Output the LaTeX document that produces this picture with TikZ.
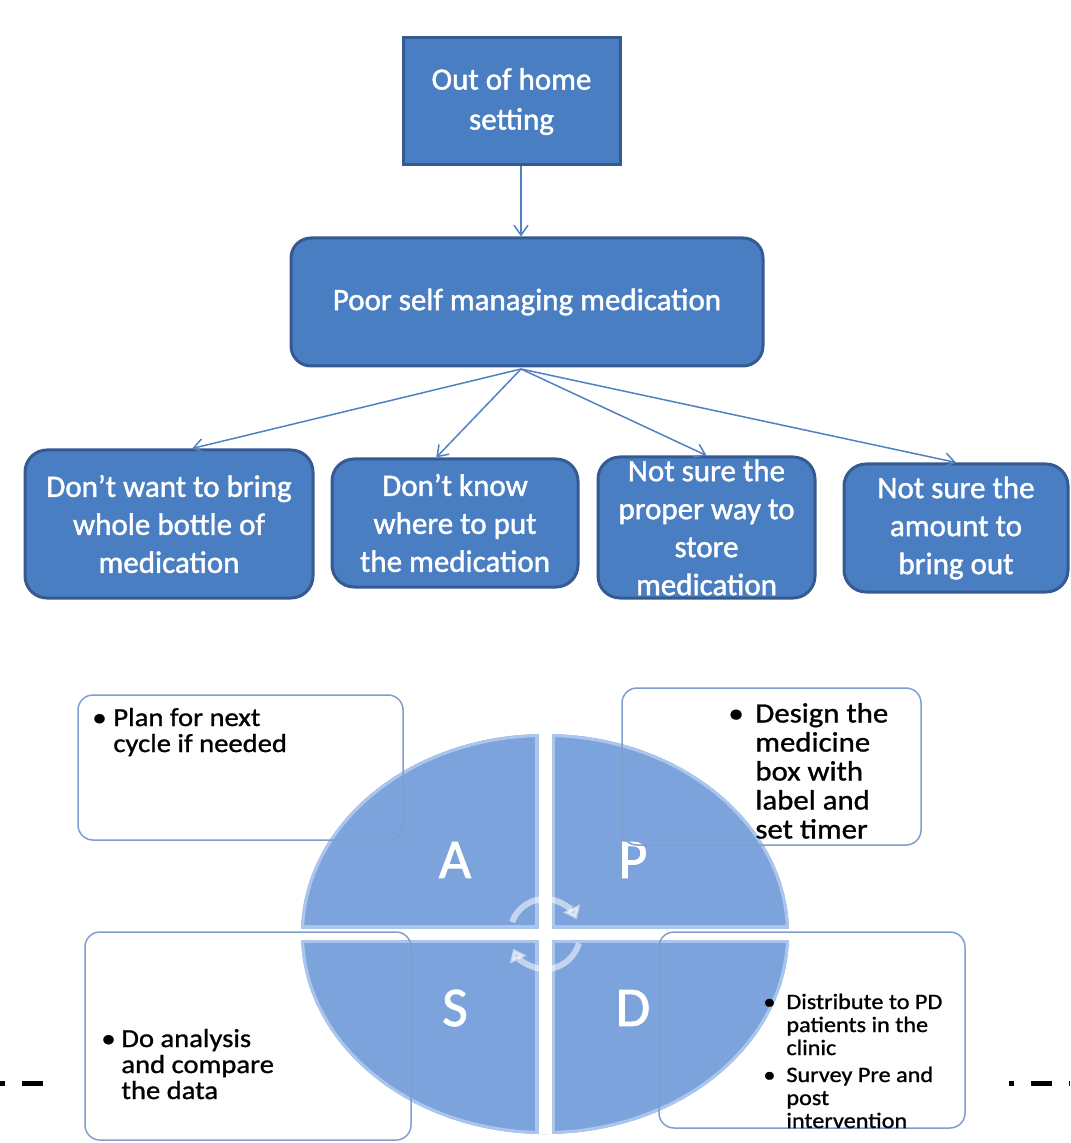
\documentclass[tikz,border=0pt]{standalone}
\usepackage{fontspec}
\setmainfont{Carlito}
\newfontfamily\causefont[FakeBold=1.4]{Carlito}
\newfontfamily\notefont[FakeStretch=1.1,FakeBold=1]{Carlito}
\usetikzlibrary{arrows.meta}
\definecolor{boxblue}{RGB}{74,126,194}
\definecolor{boxedge}{RGB}{52,90,145}
\definecolor{linkblue}{RGB}{79,129,196}
\definecolor{pdcablue}{RGB}{124,163,219}
\definecolor{pdcalight}{RGB}{170,198,236}
\definecolor{noteedge}{RGB}{128,158,204}
\newcommand\bul[2]{\par\hangindent=#1\hangafter=1\noindent\makebox[#1][l]{\textbullet}#2\par}

\begin{document}
\begin{tikzpicture}[x=0.5pt, y=-0.5pt, >={Straight Barb[length=5pt,width=7pt]},
  cause/.style={draw=boxedge, fill=boxblue, line width=1.5pt, text=white, align=center, inner sep=0pt, font=\causefont\fontsize{15.5}{19}\selectfont},
  link/.style={->, linkblue, line width=0.75pt},
  note/.style={draw=noteedge, line width=0.75pt, rounded corners=7.5pt},
  notetext/.style={anchor=base west, inner sep=0pt, text=black},
  letter/.style={text=white, inner sep=0pt, font=\causefont\fontsize{28}{28}\selectfont},
  roundarrow/.style={draw=white, opacity=0.55, line width=3pt, -{Triangle[length=6pt,width=9pt]}},
  dashline/.style={line width=2.5pt, dash pattern=on 2.5pt off 8.5pt on 10.5pt off 8.5pt}]
    \useasboundingbox (0,0) rectangle (1070,1143);

    %Problem tree
    \node at (511.5,101.5) [cause, minimum width=108.5pt, minimum height=63.5pt, font=\causefont\fontsize{15.5}{20}\selectfont] (home) {Out of home\\setting};
    \node at (527,302) [cause, rounded corners=10pt, minimum width=236pt, minimum height=64pt] (poor) {Poor self managing medication};

    \node at (169,524) [cause, rounded corners=11pt, minimum width=144pt, minimum height=74pt] (want) {Don’t want to bring\\whole bottle of\\medication};
    \node at (455,523) [cause, rounded corners=11pt, minimum width=123pt, minimum height=64pt] (where) {Don’t know\\where to put\\the medication};
    \node at (706.5,527.5) [cause, rounded corners=11pt, minimum width=108.5pt, minimum height=70.5pt] (store) {Not sure the\\proper way to\\store\\medication};
    \node at (956,528) [cause, rounded corners=11pt, minimum width=112pt, minimum height=64pt] (amount) {Not sure the\\amount to\\bring out};

    \coordinate (hub) at (521,369);
    \draw[link] (home.south -| hub) -- (poor.north -| hub);
    \draw[link] (hub) -- (want.73);
    \draw[link] (hub) -- (where.106);
    \draw[link] (hub) -- (store.north);
    \draw[link] (hub) -- (amount.north);

    %PDCA wheel
    \coordinate (mid) at (545,934);
    \fill[pdcablue] (mid) ellipse [x radius=244, y radius=200];
    \begin{scope}
        \clip (mid) ellipse [x radius=244, y radius=200];
        \draw[pdcalight, line width=3pt] (mid) ellipse [x radius=244, y radius=200];
        \draw[pdcalight, line width=10pt] (mid) ++(0,-260) -- ++(0,520);
        \draw[pdcalight, line width=9pt] (mid) ++(-260,0) -- ++(520,0);
        \draw[white, line width=6.5pt] (mid) ++(0,-260) -- ++(0,520);
        \draw[white, line width=5.5pt] (mid) ++(-260,0) -- ++(520,0);
    \end{scope}
    \draw[roundarrow] ([shift={(-160:35)}]mid) arc[start angle=-160, end angle=-25, radius=35];
    \draw[roundarrow] ([shift={(15:35)}]mid) arc[start angle=15, end angle=155, radius=35];

    \node at (455,860) [letter] (la) {A};
    \node at (633,860) [letter] (lp) {P};
    \node at (455,1008) [letter] (ls) {S};
    \node at (633,1008) [letter] (ld) {D};

    %Notes
    \node at (240.5,767.5) [note, minimum width=162.5pt, minimum height=72.5pt] (actbox) {};
    \node at (771.5,766.5) [note, minimum width=149.5pt, minimum height=78.5pt] (planbox) {};
    \node at (248,1036) [note, minimum width=163pt, minimum height=104pt] (studybox) {};
    \node at (812,1030) [note, minimum width=153pt, minimum height=98pt] (dobox) {};

    \node at (92,726) [notetext] (acttext) {\parbox[t]{120pt}{\notefont\fontsize{13}{13}\selectfont
        \bul{10.5pt}{Plan for next\\cycle if needed}}};
    \node at (728,722.5) [notetext] (plantext) {\parbox[t]{120pt}{\notefont\fontsize{14}{14.5}\selectfont
        \bul{13.5pt}{Design the\\medicine\\box with\\label and\\set timer}}};
    \node at (101,1047) [notetext] (studytext) {\parbox[t]{120pt}{\notefont\fontsize{13}{13}\selectfont
        \bul{10pt}{Do analysis\\and compare\\the data}}};
    \node at (763,1009) [notetext] (dotext) {\parbox[t]{120pt}{\notefont\fontsize{11}{11.5}\selectfont
        \bul{11.5pt}{Distribute to PD\\patients in the\\clinic}\vspace{2pt}
        \bul{11.5pt}{Survey Pre and\\post\\intervention}}};

    \draw[dashline] (0,1083) -- (45,1083);
    \draw[dashline] (1009,1083) -- (1070,1083);
\end{tikzpicture}
\end{document}
